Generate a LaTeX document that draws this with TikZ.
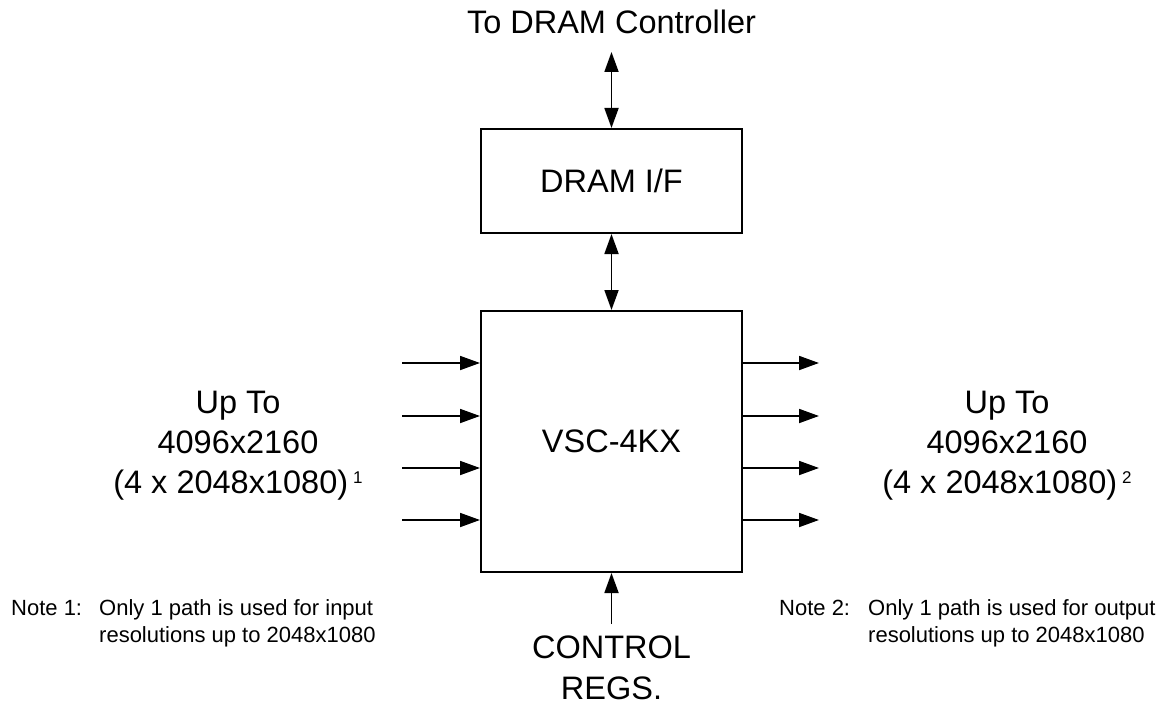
\documentclass[tikz,border=0pt]{standalone}
\usepackage{fontspec}
\setmainfont{Liberation Sans}
\usetikzlibrary{arrows.meta}
\tikzset{
  blk/.style={draw, line width=2pt, inner sep=0pt, font=\fontsize{32.5}{40}\selectfont},
  bigtxt/.style={inner sep=0pt, align=center, font=\fontsize{32.5}{40}\selectfont},
  notetxt/.style={inner sep=0pt, align=left, font=\fontsize{22}{27}\selectfont},
  onearrow/.style={line width=1.8pt, -{Triangle[length=20pt,width=14pt]}},
  twoarrow/.style={line width=1.8pt, {Triangle[length=20pt,width=14pt]}-{Triangle[length=20pt,width=14pt]}},
}
\newcommand{\supmark}[1]{\hspace{5pt}\raisebox{10pt}{\fontsize{17}{17}\selectfont #1}}
\begin{document}
\begin{tikzpicture}[x=1pt,y=-1pt]
\useasboundingbox (0,0) rectangle (1168,706);
% blocks
\node[blk, minimum width=261pt, minimum height=104pt] (dramif) at (611.5,181) {DRAM I/F};
\node[blk, minimum width=261pt, minimum height=261pt] (vsc) at (611.5,441.5) {VSC-4KX};
% texts
\node[bigtxt, anchor=base] (todram) at (611.5,34) {To DRAM Controller};
\node[bigtxt, anchor=north] (intxt) at (238,391) {Up To\\4096x2160\\(4 x 2048x1080)\supmark{1}};
\node[bigtxt, anchor=north] (outtxt) at (1007,391) {Up To\\4096x2160\\(4 x 2048x1080)\supmark{2}};
\node[bigtxt, anchor=north, font=\fontsize{32.5}{41}\selectfont] (ctrl) at (611.5,636) {CONTROL\\REGS.};
\node[notetxt, anchor=base west] (n1lab) at (11,615) {Note 1:};
\node[notetxt, anchor=base west] (n1a) at (99,615) {Only 1 path is used for input};
\node[notetxt, anchor=base west] (n1b) at (99,642) {resolutions up to 2048x1080};
\node[notetxt, anchor=base west] (n2lab) at (779,615) {Note 2:};
\node[notetxt, anchor=base west] (n2a) at (868,615) {Only 1 path is used for output};
\node[notetxt, anchor=base west] (n2b) at (868,642) {resolutions up to 2048x1080};
% connectors
\coordinate (ctop) at (611.5,52);
\coordinate (cbot) at (611.5,624);
\draw[twoarrow] (ctop) -- (dramif.north);
\draw[twoarrow] (dramif.south) -- (vsc.north);
\draw[onearrow] (cbot) -- (vsc.south);
\foreach \i/\y in {1/363,2/416,3/468,4/520}{
  \coordinate (in\i) at (402,\y);
  \coordinate (out\i) at (819,\y);
  \draw[onearrow] (in\i) -- (in\i -| vsc.west);
  \draw[onearrow] (out\i -| vsc.east) -- (out\i);
}
\end{tikzpicture}
\end{document}
